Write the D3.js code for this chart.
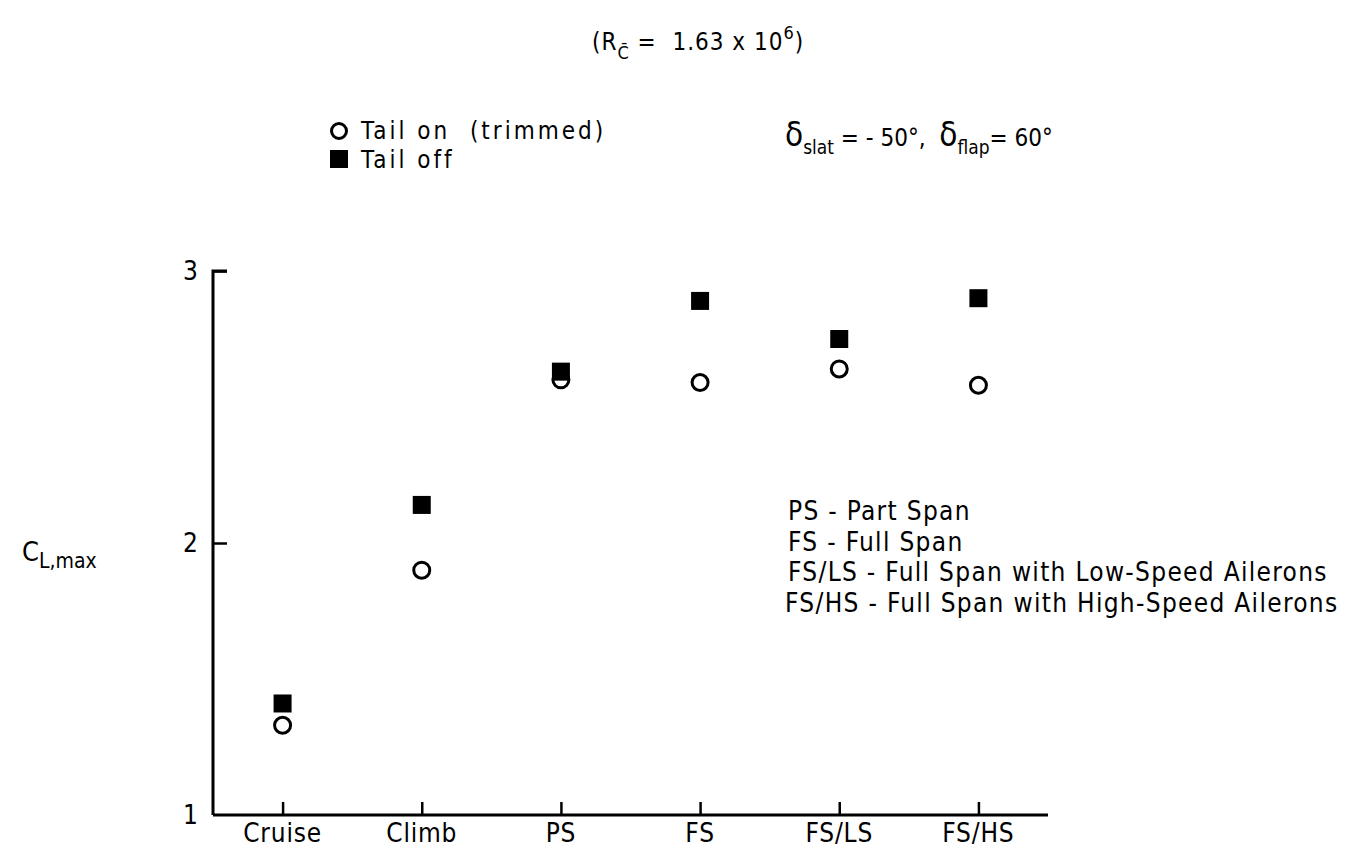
<!DOCTYPE html>
<html><head><meta charset="utf-8">
<script src="https://cdn.jsdelivr.net/npm/d3@7"></script>
<style>
body{margin:0;background:#fff;}
svg text{font-family:"Liberation Sans Narrow","DejaVu Sans Condensed",sans-serif;fill:#000;}
</style></head>
<body><svg id="c" width="1356" height="849"></svg>
<script>
const categories = ["Cruise","Climb","PS","FS","FS/LS","FS/HS"];
const tailOn  = [1.33, 1.90, 2.60, 2.59, 2.64, 2.58];
const tailOff = [1.41, 2.14, 2.63, 2.89, 2.75, 2.90];
const yTicks = [1, 2, 3];
const yTickLabels = ["1", "2", "3"];
const notes = [
  "PS - Part Span",
  "FS - Full Span",
  "FS/LS - Full Span with Low-Speed Ailerons",
  "FS/HS - Full Span with High-Speed Ailerons"
];

const svg = d3.select("#c");
const x = d3.scalePoint().domain(categories).range([213, 1048]).padding(0.5);
const y = d3.scaleLinear().domain([1, 3]).range([815, 271]);

// axes
const gy = svg.append("g").attr("transform","translate(213,0)")
  .call(d3.axisRight(y).tickValues(yTicks).tickSize(14).tickFormat(""));
gy.select(".domain").attr("stroke","#000").attr("stroke-width",3).attr("d","M14,271H0V815");
gy.selectAll(".tick line").attr("stroke","#000").attr("stroke-width",2.5);
gy.selectAll(".tick").filter(d=>d===1).remove();

yTicks.forEach((t,i)=>{
  svg.append("text").attr("x",198).attr("y",y(t)+9)
    .attr("text-anchor","end").attr("font-size",26).text(yTickLabels[i]);
});

const gx = svg.append("g").attr("transform","translate(0,815)")
  .call(d3.axisTop(x).tickSize(13).tickFormat(""));
gx.select(".domain").attr("stroke","#000").attr("stroke-width",3).attr("d","M213,0H1048");
gx.selectAll(".tick line").attr("stroke","#000").attr("stroke-width",2.5);

categories.forEach(c=>{
  svg.append("text").attr("x",x(c)).attr("y",842).attr("text-anchor","middle")
    .attr("font-size",26).attr("letter-spacing",0.8).text(c);
});

// data
svg.append("g").selectAll("rect").data(categories).join("rect")
  .attr("x",(d)=>x(d)-9).attr("y",(d,i)=>y(tailOff[i])-9)
  .attr("width",18).attr("height",18).attr("fill","#000");
svg.append("g").selectAll("circle").data(categories).join("circle")
  .attr("cx",d=>x(d)).attr("cy",(d,i)=>y(tailOn[i])).attr("r",8)
  .attr("fill","none").attr("stroke","#000").attr("stroke-width",3);

// y label
const yl = svg.append("text").attr("x",22).attr("y",561).attr("font-size",27);
yl.append("tspan").text("C");
yl.append("tspan").attr("font-size",21).attr("dy",7).text("L,max");

// title
const t = svg.append("text").attr("x",592).attr("y",50).attr("font-size",24).attr("letter-spacing",1);
t.append("tspan").text("(R");
t.append("tspan").attr("font-size",18).attr("dy",9).text("C\u0304");
t.append("tspan").attr("dy",-9).text(" =\u00a0 1.63 x 10");
t.append("tspan").attr("font-size",18).attr("dy",-11).text("6");
t.append("tspan").attr("dy",11).text(")");

// delta label
const dl = svg.append("text").attr("x",785).attr("y",146).attr("font-size",33);
dl.append("tspan").text("\u03b4");
dl.append("tspan").attr("font-size",19).attr("dy",8).text("slat");
dl.append("tspan").attr("font-size",24).attr("dy",-8).text(" = - 50\u00b0,\u00a0 ");
dl.append("tspan").attr("font-size",33).text("\u03b4");
dl.append("tspan").attr("font-size",19).attr("dy",8).text("flap");
dl.append("tspan").attr("font-size",24).attr("dy",-8).text("= 60\u00b0");

// legend
svg.append("circle").attr("cx",339).attr("cy",131).attr("r",7.5)
  .attr("fill","none").attr("stroke","#000").attr("stroke-width",3);
svg.append("rect").attr("x",330).attr("y",150).attr("width",18).attr("height",18).attr("fill","#000");
svg.append("text").attr("x",361).attr("y",139).attr("font-size",24).attr("letter-spacing",3).text("Tail on\u00a0 (trimmed)");
svg.append("text").attr("x",361).attr("y",168).attr("font-size",24).attr("letter-spacing",3).text("Tail off");

// notes
notes.forEach((n,i)=>{
  svg.append("text").attr("x",i===3?785:788).attr("y",520+i*30.5)
    .attr("font-size",26).attr("letter-spacing",1.3).text(n);
});
</script></body></html>
